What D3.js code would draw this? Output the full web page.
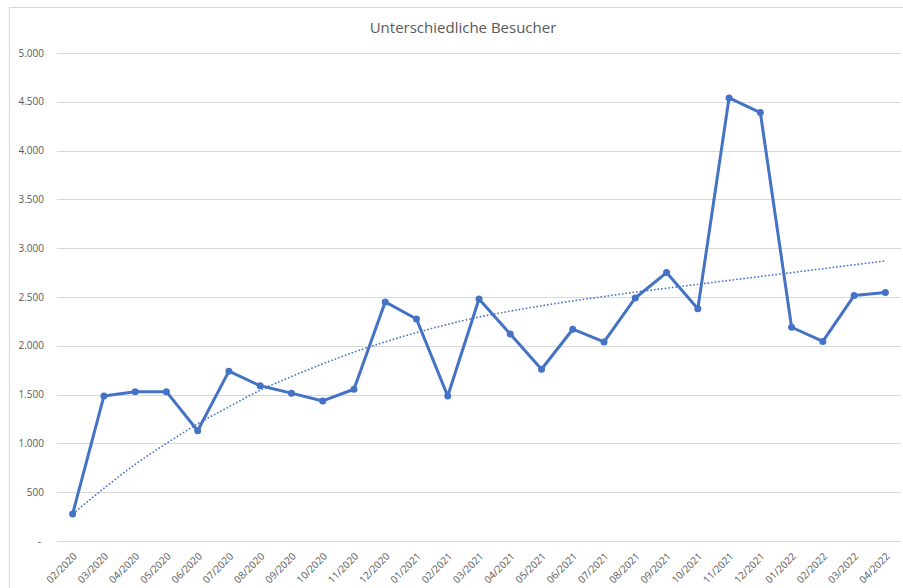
<!DOCTYPE html>
<html lang="de">
<head>
    <meta charset="utf-8">
    <title>Unterschiedliche Besucher</title>
    <script src="https://cdn.jsdelivr.net/npm/d3@7"></script>
    <style>
        body { margin: 0; background: #fff; }
        svg text { font-family: "Open Sans", "Noto Sans", sans-serif; fill: #595959; }
    </style>
</head>
<body>

<div id="chart"></div>

<script type="text/javascript">
var months = ["02/2020", "03/2020", "04/2020", "05/2020", "06/2020", "07/2020", "08/2020",
              "09/2020", "10/2020", "11/2020", "12/2020", "01/2021", "02/2021", "03/2021",
              "04/2021", "05/2021", "06/2021", "07/2021", "08/2021", "09/2021", "10/2021",
              "11/2021", "12/2021", "01/2022", "02/2022", "03/2022", "04/2022"];

var visitors = [277, 1485, 1530, 1530, 1130, 1740, 1590, 1515, 1435, 1555, 2450, 2275, 1485,
                2480, 2120, 1760, 2170, 2040, 2490, 2750, 2380, 4540, 4390, 2190, 2045, 2515, 2545];

// dotted trendline at each month
var trend = [277, 540, 785, 1000, 1200, 1375, 1545, 1685, 1815, 1935, 2040, 2135, 2220, 2295,
             2355, 2410, 2460, 2505, 2550, 2590, 2630, 2670, 2710, 2750, 2790, 2830, 2870];

var yTicks = [0, 500, 1000, 1500, 2000, 2500, 3000, 3500, 4000, 4500, 5000];

var title = "Unterschiedliche Besucher";
</script>

<script type="text/javascript">
var width = 903, height = 588;
var blue = "#4472c4";

var svg = d3.select("#chart").append("svg")
    .attr("width", width)
    .attr("height", height);

// chart area border
svg.append("rect")
    .attr("x", 9.5).attr("y", 7.5)
    .attr("width", 900).attr("height", 600)
    .attr("fill", "none")
    .attr("stroke", "#d9d9d9");

var x = d3.scaleBand()
    .domain(months)
    .range([57, 901]);

var y = d3.scaleLinear()
    .domain([0, 5000])
    .range([541, 53]);

var de = d3.formatLocale({ decimal: ",", thousands: ".", grouping: [3], currency: ["", "€"] });
var fmt = de.format(",");

svg.append("text")
    .attr("x", 463)
    .attr("y", 33)
    .attr("text-anchor", "middle")
    .style("font-size", "15px")
    .text(title);

// gridlines
svg.append("g")
    .selectAll("line")
    .data(yTicks)
    .enter().append("line")
    .attr("x1", 57).attr("x2", 901)
    .attr("y1", function(d) { return Math.round(y(d)) + 0.5; })
    .attr("y2", function(d) { return Math.round(y(d)) + 0.5; })
    .attr("stroke", "#d9d9d9")
    .attr("stroke-width", 1);

// y labels
svg.append("g")
    .selectAll("text")
    .data(yTicks)
    .enter().append("text")
    .attr("x", function(d) { return d === 0 ? 41 : 44; })
    .attr("y", function(d) { return y(d); })
    .attr("dy", "0.35em")
    .attr("text-anchor", "end")
    .style("font-size", "10px")
    .text(function(d) { return d === 0 ? "-" : fmt(d); });

// x labels
svg.append("g")
    .selectAll("text")
    .data(months)
    .enter().append("text")
    .attr("transform", function(d) {
        return "translate(" + (x(d) + x.bandwidth() / 2) + ",552) rotate(-45)";
    })
    .attr("dy", "0.71em")
    .attr("text-anchor", "end")
    .style("font-size", "10px")
    .text(function(d) { return d; });

var cx = function(d, i) { return x(months[i]) + x.bandwidth() / 2; };

var line = d3.line()
    .x(function(d, i) { return cx(d, i); })
    .y(function(d) { return y(d); });

svg.append("path")
    .datum(trend)
    .attr("fill", "none")
    .attr("stroke", blue)
    .attr("stroke-width", 1.6)
    .attr("stroke-dasharray", "1.6,2")
    .attr("d", line.curve(d3.curveMonotoneX));

svg.append("path")
    .datum(visitors)
    .attr("fill", "none")
    .attr("stroke", blue)
    .attr("stroke-width", 3)
    .attr("stroke-linejoin", "round")
    .attr("d", line.curve(d3.curveLinear));

svg.append("g")
    .selectAll("circle")
    .data(visitors)
    .enter().append("circle")
    .attr("cx", function(d, i) { return cx(d, i); })
    .attr("cy", function(d) { return y(d); })
    .attr("r", 3.5)
    .attr("fill", blue);
</script>

</body>
</html>
